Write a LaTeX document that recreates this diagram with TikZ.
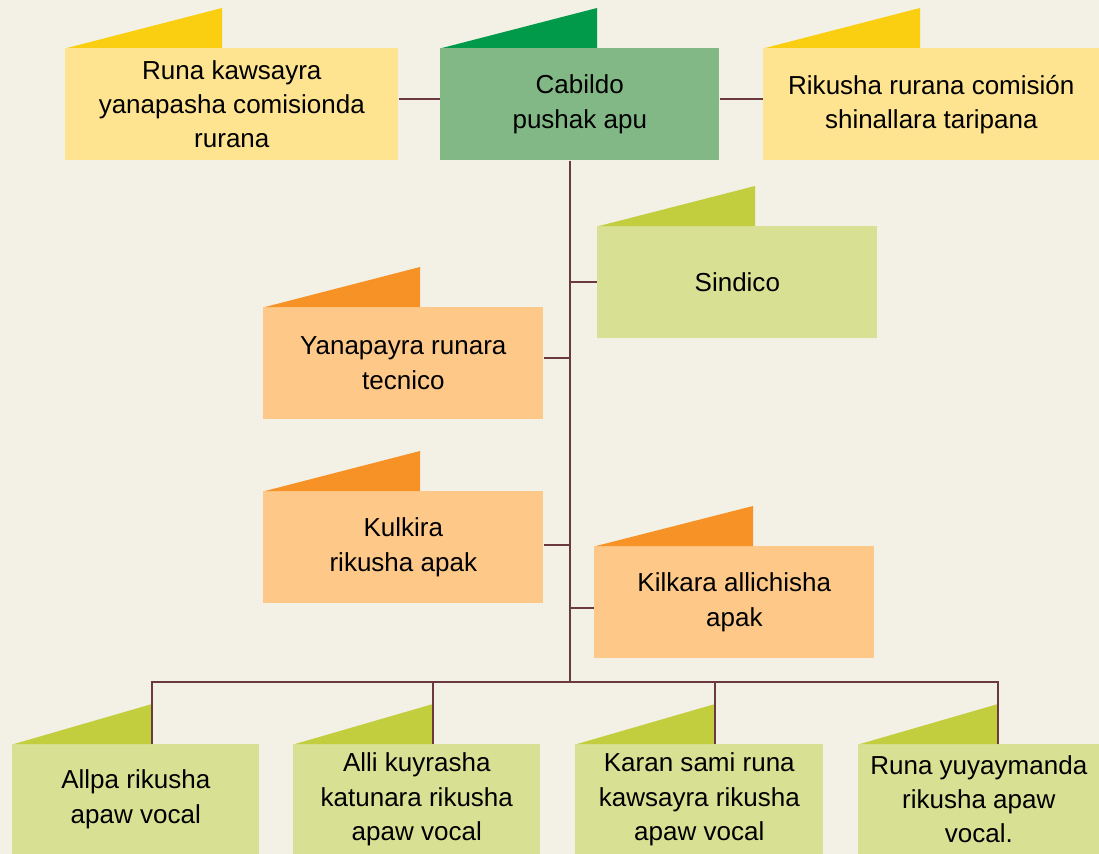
\documentclass[tikz,border=0pt]{standalone}
\usepackage{fontspec}
\setmainfont{Liberation Sans}
\usetikzlibrary{calc}
\definecolor{bgc}{HTML}{F3F1E6}
\definecolor{linec}{HTML}{6B3A40}
\definecolor{yelbox}{HTML}{FEE490}
\definecolor{yeltab}{HTML}{FACF11}
\definecolor{grnbox}{HTML}{82B886}
\definecolor{grntab}{HTML}{009A4A}
\definecolor{limbox}{HTML}{D8E093}
\definecolor{limtab}{HTML}{C3CE3F}
\definecolor{orgbox}{HTML}{FEC889}
\definecolor{orgtab}{HTML}{F79226}
\tikzset{unitbox/.style={anchor=north west,inner sep=0pt,align=center,
  minimum width=7cm,minimum height=2.8cm,font=\fontsize{18.5}{24.4}\selectfont}}
\tikzset{link/.style={draw=linec,line width=1.7pt}}
% tab on top of a box: name, apex offset, colour
\newcommand{\unittab}[3]{%
  \fill[#3] ($(#1.north west)+(2,0)$) -- ($(#1.north west)+(#2,-40)$)
    -- ($(#1.north west)+(#2,0)$) -- cycle;
  \coordinate (#1-tab) at ($(#1.north west)+(#2,0)$);}

\begin{document}
\begin{tikzpicture}[x=0.025cm,y=-0.025cm]
  \fill[bgc] (0,0) rectangle (1099,854);
  \useasboundingbox (0,0) rectangle (1099,854);

  % top row
  \node[unitbox,fill=yelbox,minimum width=8.325cm] (comis) at (65,48)
    {Runa kawsayra\\yanapasha comisionda\\rurana};
  \node[unitbox,fill=grnbox,minimum width=6.975cm] (cab) at (440,48)
    {Cabildo\\pushak apu};
  \node[unitbox,fill=yelbox,minimum width=8.4cm] (rik) at (763,48)
    {Rikusha rurana comisión\\shinallara taripana};
  \unittab{comis}{157}{yeltab}
  \unittab{cab}{157}{grntab}
  \unittab{rik}{157}{yeltab}

  % middle
  \node[unitbox,fill=limbox] (sind) at (597,226) {Sindico};
  \node[unitbox,fill=orgbox] (tec) at (263,307) {Yanapayra runara\\tecnico};
  \node[unitbox,fill=orgbox] (kul) at (263,491) {Kulkira\\rikusha apak};
  \node[unitbox,fill=orgbox] (kil) at (594,546) {Kilkara allichisha\\apak};
  \unittab{sind}{158}{limtab}
  \unittab{tec}{157}{orgtab}
  \unittab{kul}{157}{orgtab}
  \unittab{kil}{159}{orgtab}

  % bottom row
  \foreach \n/\x/\w/\t in {b1/12/6.175/{Allpa rikusha\\apaw vocal},
      b2/293/6.175/{Alli kuyrasha\\katunara rikusha\\apaw vocal},
      b3/575/6.2/{Karan sami runa\\kawsayra rikusha\\apaw vocal},
      b4/858/6.025/{Runa yuyaymanda\\rikusha apaw\\vocal.}}{
    \node[unitbox,fill=limbox,minimum width=\w cm,minimum height=2.75cm] (\n) at (\x,744) {\t};
    \unittab{\n}{140}{limtab}
  }

  % connectors
  \coordinate (trunk) at (570,682);
  \draw[link] (comis.east |- 0,99) -- (cab.west |- 0,99);
  \draw[link] (cab.east |- 0,99) -- (rik.west |- 0,99);
  \draw[link] (cab.south -| trunk) -- (trunk);
  \draw[link] (trunk |- sind.west) -- (sind.west);
  \draw[link] (trunk |- 0,358) -- (tec.east |- 0,358);
  \draw[link] (trunk |- 0,545) -- (kul.east |- 0,545);
  \draw[link] (trunk |- 0,608) -- (kil.west |- 0,608);
  \draw[link] (b1-tab) -- (b1-tab |- trunk) -- (b4-tab |- trunk) -- (b4-tab);
  \draw[link] (b2-tab |- trunk) -- (b2-tab);
  \draw[link] (b3-tab |- trunk) -- (b3-tab);
\end{tikzpicture}
\end{document}
